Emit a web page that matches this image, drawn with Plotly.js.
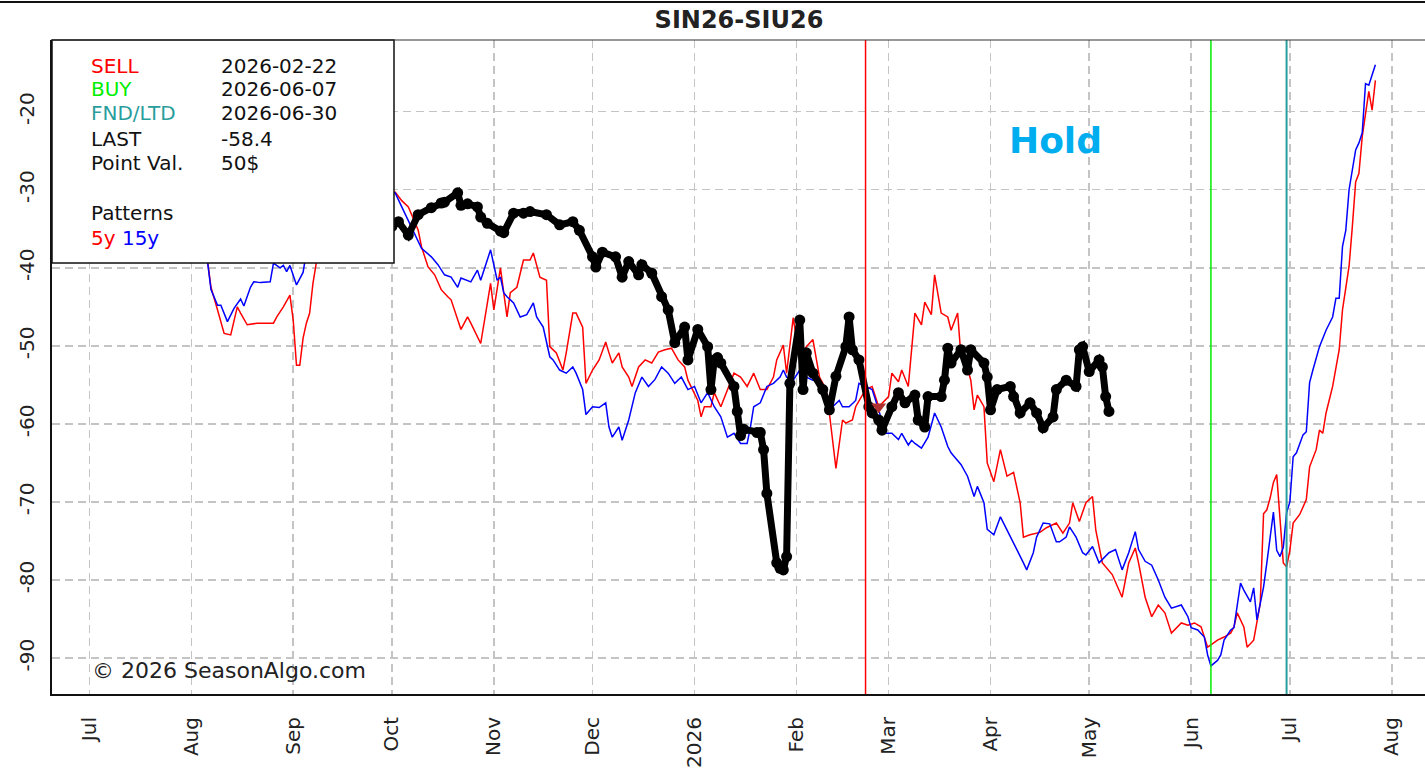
<!DOCTYPE html>
<html>
<head>
<meta charset="utf-8">
<script src="https://cdn.plot.ly/plotly-3.0.1.min.js"></script>
<style>
html,body{margin:0;padding:0;background:#fff;}
#chart{width:1425px;height:769px;}
</style>
</head>
<body>
<div id="chart"></div>
<script>
// ---- Data ----
const redDates = ['2025-08-05','2025-08-07','2025-08-09','2025-08-11','2025-08-13','2025-08-15','2025-08-16','2025-08-18','2025-08-21','2025-08-24','2025-08-26','2025-08-27','2025-08-29','2025-08-31','2025-09-01','2025-09-02','2025-09-03','2025-09-04','2025-09-05','2025-09-06','2025-09-07','2025-09-08','2025-09-12','2025-09-20','2025-09-27','2025-10-02','2025-10-04','2025-10-06','2025-10-09','2025-10-10','2025-10-12','2025-10-14','2025-10-16','2025-10-18','2025-10-19','2025-10-22','2025-10-24','2025-10-25','2025-10-28','2025-10-30','2025-10-31','2025-11-01','2025-11-03','2025-11-04','2025-11-05','2025-11-06','2025-11-08','2025-11-10','2025-11-12','2025-11-13','2025-11-15','2025-11-17','2025-11-18','2025-11-20','2025-11-22','2025-11-23','2025-11-25','2025-11-26','2025-11-28','2025-11-29','2025-12-01','2025-12-03','2025-12-05','2025-12-06','2025-12-07','2025-12-09','2025-12-10','2025-12-12','2025-12-13','2025-12-15','2025-12-17','2025-12-19','2025-12-21','2025-12-23','2025-12-25','2025-12-27','2025-12-29','2025-12-30','2026-01-01','2026-01-02','2026-01-03','2026-01-04','2026-01-06','2026-01-07','2026-01-09','2026-01-11','2026-01-13','2026-01-15','2026-01-17','2026-01-19','2026-01-21','2026-01-23','2026-01-25','2026-01-26','2026-01-28','2026-01-29','2026-01-31','2026-02-02','2026-02-04','2026-02-06','2026-02-07','2026-02-08','2026-02-10','2026-02-11','2026-02-13','2026-02-15','2026-02-16','2026-02-18','2026-02-19','2026-02-22','2026-02-24','2026-02-26','2026-03-01','2026-03-02','2026-03-04','2026-03-05','2026-03-07','2026-03-09','2026-03-11','2026-03-12','2026-03-14','2026-03-15','2026-03-17','2026-03-19','2026-03-20','2026-03-22','2026-03-23','2026-03-24','2026-03-26','2026-03-27','2026-03-28','2026-03-30','2026-03-31','2026-04-02','2026-04-04','2026-04-06','2026-04-08','2026-04-10','2026-04-11','2026-04-13','2026-04-16','2026-04-18','2026-04-21','2026-04-23','2026-04-25','2026-04-26','2026-04-28','2026-04-30','2026-05-02','2026-05-03','2026-05-05','2026-05-08','2026-05-11','2026-05-13','2026-05-15','2026-05-16','2026-05-18','2026-05-20','2026-05-22','2026-05-24','2026-05-26','2026-05-29','2026-05-31','2026-06-02','2026-06-04','2026-06-06','2026-06-07','2026-06-09','2026-06-11','2026-06-13','2026-06-14','2026-06-15','2026-06-17','2026-06-18','2026-06-20','2026-06-21','2026-06-22','2026-06-23','2026-06-24','2026-06-25','2026-06-26','2026-06-27','2026-06-28','2026-06-29','2026-06-30','2026-07-01','2026-07-02','2026-07-04','2026-07-06','2026-07-07','2026-07-09','2026-07-10','2026-07-11','2026-07-12','2026-07-14','2026-07-16','2026-07-17','2026-07-19','2026-07-20','2026-07-21','2026-07-22','2026-07-23','2026-07-25','2026-07-26','2026-07-27'];
const redVals = [-36,-42.5,-45.4,-48.4,-48.6,-45,-45.8,-47.3,-47.1,-47.1,-47.1,-46.3,-45,-43.5,-46.7,-52.5,-52.5,-49,-47.1,-45.8,-42,-39.4,-35,-33,-31,-30.3,-31.4,-32.2,-35.2,-37.3,-39.9,-40.9,-42.8,-43.7,-44.1,-47.9,-46.3,-47.1,-49.7,-44.6,-42,-45.4,-40,-43.2,-46.3,-43.2,-42.5,-39,-39,-38.1,-41.2,-41.6,-50.1,-50.9,-53.1,-50.9,-45.8,-45.8,-47.6,-54.8,-53.1,-51.8,-49.5,-50.9,-52.2,-50.9,-52.7,-54,-55.2,-52.7,-51.8,-52.2,-50.8,-50.5,-50.3,-51.8,-52.7,-54.4,-56,-57,-59.1,-57.8,-57.8,-56,-57.8,-55.6,-53.5,-54,-55.2,-53.5,-55.6,-55.6,-54,-51.8,-49.9,-53.5,-46.4,-51.8,-50.1,-49.2,-51.8,-54,-55.6,-58.6,-65.7,-59.5,-59.9,-59.5,-57.8,-55.6,-55.2,-57.8,-56.5,-53.5,-54.6,-53.1,-55.2,-45.8,-47.3,-44.4,-46,-40.9,-45.8,-46.3,-48,-45.8,-51.4,-51.4,-54.4,-58.2,-56.3,-57.8,-65,-67.4,-63.3,-66.7,-66.2,-70.1,-74.5,-74.2,-73.9,-73.3,-72.7,-74,-72.7,-70.1,-72.5,-70.1,-69.3,-73.6,-77.8,-79.3,-82.2,-77.8,-75.9,-77.8,-82.2,-84.7,-83.2,-84.2,-86.8,-85.5,-85.8,-85.5,-86,-88.6,-88.3,-87.7,-87.3,-86.8,-86,-84.2,-86,-88.6,-87.7,-85.5,-83,-71.5,-71,-69.5,-67.5,-66.5,-72,-77.8,-78.3,-76.2,-72.7,-71.6,-69.7,-65.5,-63.3,-60.8,-61.2,-58.6,-55.2,-50.5,-45.4,-39.8,-34.7,-29,-27.9,-23.2,-17.4,-19.8,-16];

const blueDates = ['2025-08-05','2025-08-07','2025-08-09','2025-08-10','2025-08-12','2025-08-14','2025-08-16','2025-08-17','2025-08-19','2025-08-20','2025-08-22','2025-08-25','2025-08-26','2025-08-28','2025-08-29','2025-08-30','2025-08-31','2025-09-02','2025-09-04','2025-09-05','2025-09-12','2025-09-20','2025-09-27','2025-10-02','2025-10-04','2025-10-06','2025-10-08','2025-10-10','2025-10-13','2025-10-15','2025-10-17','2025-10-19','2025-10-21','2025-10-22','2025-10-25','2025-10-27','2025-10-28','2025-10-31','2025-11-02','2025-11-03','2025-11-04','2025-11-05','2025-11-07','2025-11-09','2025-11-11','2025-11-13','2025-11-14','2025-11-16','2025-11-18','2025-11-19','2025-11-21','2025-11-23','2025-11-25','2025-11-26','2025-11-28','2025-11-29','2025-12-01','2025-12-03','2025-12-05','2025-12-06','2025-12-07','2025-12-09','2025-12-10','2025-12-12','2025-12-14','2025-12-16','2025-12-18','2025-12-20','2025-12-22','2025-12-24','2025-12-26','2025-12-28','2025-12-30','2026-01-01','2026-01-03','2026-01-05','2026-01-07','2026-01-09','2026-01-11','2026-01-13','2026-01-15','2026-01-17','2026-01-18','2026-01-19','2026-01-21','2026-01-23','2026-01-25','2026-01-27','2026-01-28','2026-01-29','2026-01-31','2026-02-02','2026-02-04','2026-02-06','2026-02-08','2026-02-10','2026-02-12','2026-02-14','2026-02-15','2026-02-17','2026-02-19','2026-02-20','2026-02-22','2026-02-24','2026-02-26','2026-02-28','2026-03-02','2026-03-04','2026-03-05','2026-03-07','2026-03-08','2026-03-09','2026-03-11','2026-03-13','2026-03-15','2026-03-17','2026-03-19','2026-03-20','2026-03-21','2026-03-23','2026-03-25','2026-03-27','2026-03-28','2026-03-30','2026-03-31','2026-04-02','2026-04-04','2026-04-06','2026-04-08','2026-04-09','2026-04-11','2026-04-12','2026-04-14','2026-04-15','2026-04-17','2026-04-19','2026-04-21','2026-04-22','2026-04-24','2026-04-25','2026-04-27','2026-04-29','2026-04-30','2026-05-02','2026-05-04','2026-05-07','2026-05-09','2026-05-11','2026-05-13','2026-05-15','2026-05-16','2026-05-18','2026-05-20','2026-05-22','2026-05-24','2026-05-26','2026-05-29','2026-05-31','2026-06-01','2026-06-03','2026-06-05','2026-06-06','2026-06-07','2026-06-09','2026-06-10','2026-06-11','2026-06-13','2026-06-14','2026-06-16','2026-06-17','2026-06-19','2026-06-20','2026-06-21','2026-06-23','2026-06-24','2026-06-26','2026-06-27','2026-06-28','2026-06-29','2026-06-30','2026-07-01','2026-07-02','2026-07-03','2026-07-05','2026-07-06','2026-07-07','2026-07-08','2026-07-10','2026-07-12','2026-07-14','2026-07-15','2026-07-16','2026-07-17','2026-07-18','2026-07-19','2026-07-21','2026-07-22','2026-07-23','2026-07-24','2026-07-25','2026-07-27'];
const blueVals = [-36,-42.8,-44.8,-44.8,-46.9,-45.2,-44,-44.9,-42.5,-41.8,-41.9,-41.8,-39.4,-40,-39.7,-40.5,-39.7,-42.2,-40.6,-38,-34,-32,-30.5,-30.4,-32.2,-33.9,-35.6,-37.5,-38.6,-39.6,-40.9,-41.2,-42.5,-41.3,-41.8,-40.3,-41.6,-37.7,-41.6,-41.2,-43.2,-43.7,-44.5,-46.3,-46,-44.5,-46.3,-47.6,-51.4,-51.8,-53.1,-53.5,-52.7,-53.5,-55.6,-58.8,-57.8,-57.9,-57.3,-60.4,-61.7,-60.4,-62.1,-59.5,-56,-54,-55.2,-54.3,-52.7,-53.5,-54.8,-54,-55.6,-55.2,-57.3,-56,-57.8,-59.1,-61.7,-61.2,-62.5,-62.5,-60.4,-57.8,-57.3,-55.2,-54.8,-54,-53.1,-54,-54.4,-53.1,-54,-54.4,-54.4,-57,-57.8,-57,-57.8,-57.8,-57,-54.8,-55.2,-55.6,-58.2,-61.2,-61.2,-62,-61.2,-62.7,-62.1,-62.5,-63.1,-61.7,-58.6,-60.4,-62.9,-63.7,-64.2,-65.2,-66.7,-69.3,-68,-70.1,-73.5,-74.2,-71.9,-73.5,-75.1,-76.1,-77.8,-78.7,-76.5,-74.5,-72.7,-72.8,-75.1,-75.1,-74.5,-73.2,-74.5,-76.5,-76.8,-75.7,-77.8,-76.5,-76.1,-78.7,-76.5,-73.8,-76.1,-77.6,-78.1,-80,-82.2,-83.6,-83.2,-84.7,-86.1,-86.4,-87.3,-89.6,-91,-90.3,-89.6,-87.7,-86.4,-86.1,-80.4,-81.3,-82.8,-81,-85.1,-80.9,-77.8,-71.3,-76.2,-77,-75.8,-71.4,-70,-64.2,-63.7,-61.4,-61,-54.7,-53.1,-50.1,-48,-46.3,-43.9,-43.9,-37.3,-35.2,-30,-24.9,-24,-22.7,-16.4,-16.6,-14];

const lastDates = ['2025-10-01','2025-10-03','2025-10-06','2025-10-09','2025-10-13','2025-10-16','2025-10-17','2025-10-21','2025-10-22','2025-10-24','2025-10-27','2025-10-28','2025-10-30','2025-11-03','2025-11-04','2025-11-07','2025-11-10','2025-11-12','2025-11-17','2025-11-21','2025-11-25','2025-11-27','2025-12-01','2025-12-02','2025-12-04','2025-12-08','2025-12-10','2025-12-12','2025-12-15','2025-12-16','2025-12-19','2025-12-22','2025-12-24','2025-12-26','2025-12-29','2025-12-30','2026-01-02','2026-01-05','2026-01-06','2026-01-07','2026-01-08','2026-01-09','2026-01-13','2026-01-14','2026-01-15','2026-01-16','2026-01-20','2026-01-21','2026-01-22','2026-01-23','2026-01-26','2026-01-27','2026-01-28','2026-01-29','2026-01-30','2026-02-02','2026-02-03','2026-02-04','2026-02-06','2026-02-09','2026-02-11','2026-02-13','2026-02-16','2026-02-17','2026-02-18','2026-02-20','2026-02-23','2026-02-24','2026-02-26','2026-02-27','2026-03-02','2026-03-04','2026-03-06','2026-03-09','2026-03-10','2026-03-12','2026-03-13','2026-03-17','2026-03-18','2026-03-19','2026-03-20','2026-03-23','2026-03-25','2026-03-26','2026-03-30','2026-03-31','2026-04-01','2026-04-03','2026-04-07','2026-04-08','2026-04-10','2026-04-13','2026-04-15','2026-04-17','2026-04-20','2026-04-21','2026-04-24','2026-04-27','2026-04-28','2026-04-29','2026-05-01','2026-05-04','2026-05-05','2026-05-06','2026-05-07'];
const lastVals = [-34.7,-34.1,-35.8,-33.2,-32.3,-31.7,-31.6,-30.4,-32,-31.8,-32.2,-33.5,-34.3,-35.3,-35.5,-33,-33,-32.8,-33.2,-34.5,-34.1,-35.2,-38.6,-39.9,-38,-38.6,-41.2,-39.2,-40.9,-39.6,-40.7,-43.7,-45.4,-49.6,-47.6,-51.8,-47.9,-50.1,-55.6,-51.8,-51.5,-52.2,-55.2,-58.4,-61.5,-60.7,-61.1,-61.1,-63.3,-68.9,-77.8,-78.5,-78.7,-77,-54.8,-46.7,-55.6,-50.9,-53.5,-55.6,-58.2,-53.9,-50.1,-46.3,-50.5,-51.8,-57.8,-58.6,-59.5,-60.8,-57.8,-56,-57.3,-56.3,-59.5,-60.4,-56.5,-56.5,-54.4,-50.3,-52.2,-50.5,-53.1,-50.5,-52.2,-54,-58.2,-55.6,-55.2,-56.5,-58.6,-57.3,-58.6,-60.5,-59.1,-55.6,-54.4,-55.2,-50.5,-50.1,-53.3,-51.8,-52.7,-56.5,-58.4];

const markerDate = ['2026-02-26'];
const markerVal = [-57.8];

const monthTicks = ['2025-07-01','2025-08-01','2025-09-01','2025-10-01','2025-11-01','2025-12-01','2026-01-01','2026-02-01','2026-03-01','2026-04-01','2026-05-01','2026-06-01','2026-07-01','2026-08-01'];
const monthLabels = ['Jul','Aug','Sep','Oct','Nov','Dec','2026','Feb','Mar','Apr','May','Jun','Jul','Aug'];
const yTicks = [-90,-80,-70,-60,-50,-40,-30,-20];

const sellDate = '2026-02-22';
const buyDate = '2026-06-07';
const fndDate = '2026-06-30';

const infoLabels = ['SELL','BUY','FND/LTD','LAST','Point Val.'];
const infoValues = ['2026-02-22','2026-06-07','2026-06-30','-58.4','50$'];
const infoColors = ['#ff0000','#00ee00','#2a9d9d','#111111','#111111'];

// ---- Layout geometry (pixels) ----
const ML = 52, MR = 0, MT = 40, MB = 75, W = 1425, H = 769;
const PW = W - ML - MR, PH = H - MT - MB;
const px = x => (x - ML) / PW;
const py = y => (H - MB - y) / PH;
const FONT = 'DejaVu Sans';

const traces = [
  {x: redDates, y: redVals, type: 'scatter', mode: 'lines', line: {color: '#ff0000', width: 1.5}, hoverinfo: 'skip'},
  {x: blueDates, y: blueVals, type: 'scatter', mode: 'lines', line: {color: '#0000ff', width: 1.5}, hoverinfo: 'skip'},
  {x: lastDates, y: lastVals, type: 'scatter', mode: 'lines+markers', line: {color: '#000000', width: 7}, marker: {color: '#000000', size: 11}, hoverinfo: 'skip'},
  {x: markerDate, y: markerVal, type: 'scatter', mode: 'markers', marker: {symbol: 'triangle-down', color: '#b03030', size: 13}, hoverinfo: 'skip'}
];

const annotations = [];
const rowY = [66, 89, 113, 139, 163];
infoLabels.forEach((t, i) => {
  annotations.push({xref: 'paper', yref: 'paper', x: px(89), y: py(rowY[i]), xanchor: 'left', yanchor: 'middle', text: t, showarrow: false, font: {family: FONT, size: 20, color: infoColors[i]}});
  annotations.push({xref: 'paper', yref: 'paper', x: px(219), y: py(rowY[i]), xanchor: 'left', yanchor: 'middle', text: infoValues[i], showarrow: false, font: {family: FONT, size: 20, color: '#111111'}});
});
annotations.push({xref: 'paper', yref: 'paper', x: px(89), y: py(213), xanchor: 'left', yanchor: 'middle', text: 'Patterns', showarrow: false, font: {family: FONT, size: 20, color: '#111111'}});
annotations.push({xref: 'paper', yref: 'paper', x: px(89), y: py(238), xanchor: 'left', yanchor: 'middle', text: '<span style="color:#ff0000">5y</span> <span style="color:#0000ff">15y</span>', showarrow: false, font: {family: FONT, size: 20, color: '#111111'}});
annotations.push({xref: 'paper', yref: 'paper', x: px(1055), y: py(140), xanchor: 'center', yanchor: 'middle', text: '<b>Hold</b>', showarrow: false, font: {family: FONT, size: 36, color: '#00aeef'}});
annotations.push({xref: 'paper', yref: 'paper', x: px(90), y: py(670), xanchor: 'left', yanchor: 'middle', text: '© 2026 SeasonAlgo.com', showarrow: false, font: {family: FONT, size: 22, color: '#222222'}});

const shapes = [
  {type: 'line', xref: 'x', yref: 'paper', x0: sellDate, x1: sellDate, y0: 0, y1: 1, line: {color: '#ff0000', width: 1.5}, layer: 'above'},
  {type: 'line', xref: 'x', yref: 'paper', x0: buyDate, x1: buyDate, y0: 0, y1: 1, line: {color: '#00ee00', width: 1.5}, layer: 'above'},
  {type: 'line', xref: 'x', yref: 'paper', x0: fndDate, x1: fndDate, y0: 0, y1: 1, line: {color: '#2a9d9d', width: 2}, layer: 'above'},
  {type: 'rect', xref: 'paper', yref: 'paper', x0: 0, x1: px(394), y0: py(263), y1: 1, fillcolor: '#ffffff', line: {color: '#111111', width: 1.5}, layer: 'above'},
  {type: 'line', xref: 'paper', yref: 'paper', x0: 0, x1: 1, y0: 1, y1: 1, line: {color: '#333333', width: 1.2}, layer: 'above'},
  {type: 'line', xref: 'paper', yref: 'paper', x0: px(0), x1: 1, y0: py(2), y1: py(2), line: {color: '#111111', width: 2}, layer: 'above'}
];

const layout = {
  width: W, height: H,
  margin: {l: ML, r: MR, t: MT, b: MB, pad: 0},
  paper_bgcolor: '#ffffff', plot_bgcolor: '#ffffff',
  showlegend: false,
  hovermode: false,
  font: {family: FONT, color: '#222222'},
  title: {text: '<b>SIN26-SIU26</b>', font: {family: FONT, size: 24, color: '#222222'}, x: px(739), xref: 'paper', xanchor: 'center', y: 1 - 20 / H, yref: 'container', yanchor: 'middle'},
  xaxis: {
    type: 'date', range: ['2025-06-19 16:00', '2026-08-11 02:00'],
    tickmode: 'array', tickvals: monthTicks, ticktext: monthLabels, tickangle: -90,
    tickfont: {family: FONT, size: 20, color: '#222222'},
    showgrid: true, gridcolor: '#c4c4c4', gridwidth: 1.5, griddash: '8px,5px',
    showline: true, linecolor: '#111111', linewidth: 2, zeroline: false,
    ticks: '', ticklabelstandoff: 13, fixedrange: true
  },
  yaxis: {
    range: [-94.6, -10.82],
    tickmode: 'array', tickvals: yTicks, ticktext: yTicks.map(String), tickangle: -90,
    tickfont: {family: FONT, size: 20, color: '#222222'},
    showgrid: true, gridcolor: '#c4c4c4', gridwidth: 1.5, griddash: '8px,5px',
    showline: true, linecolor: '#111111', linewidth: 2, zeroline: false,
    ticks: '', ticklabelstandoff: 8, fixedrange: true
  },
  shapes: shapes,
  annotations: annotations
};

Plotly.newPlot('chart', traces, layout, {displayModeBar: false, staticPlot: true});
</script>
</body>
</html>
